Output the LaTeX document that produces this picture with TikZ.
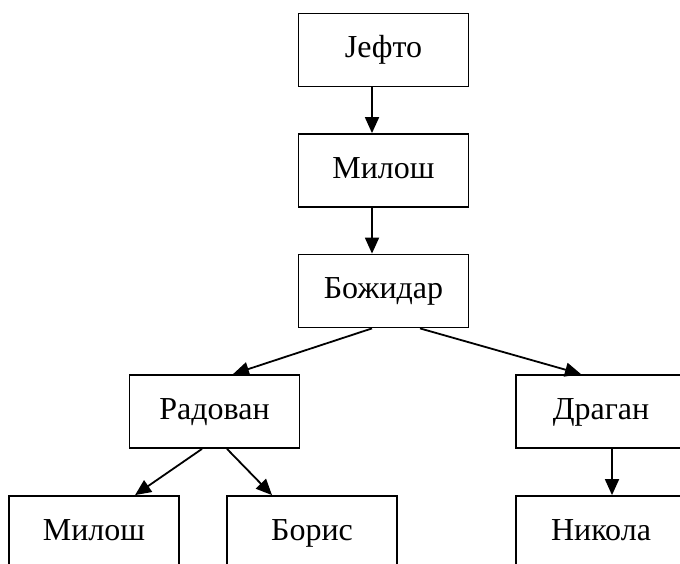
\documentclass[tikz,border=0pt]{standalone}
\usepackage{fontspec}
\setmainfont{Liberation Serif}
\usetikzlibrary{arrows.meta}

\begin{document}
\begin{tikzpicture}[x=0.5pt,y=-0.5pt,
        box/.style={draw,line width=0.9pt,minimum width=85pt,minimum height=36.5pt,
                    inner sep=0pt,text height=11pt,text depth=3.5pt,
                    font=\fontsize{16}{19}\selectfont},
        arr/.style={line width=0.9pt,-{Triangle[length=8pt,width=7pt]}}]
        \useasboundingbox (0,0) rectangle (680,563);
        %Family line
        \node[box] (jefto) at (383.5,50) {Јефто};
        \node[box] (milos) at (383.5,170.5) {Милош};
        \node[box] (bozidar) at (383.5,291) {Божидар};
        %Sons of Bozidar
        \node[box] (radovan) at (214.5,411.5) {Радован};
        \node[box] (dragan) at (601,411.5) {Драган};
        %Grandsons
        \node[box] (milos2) at (94,532.5) {Милош};
        \node[box] (boris) at (312,532.5) {Борис};
        \node[box] (nikola) at (601,532.5) {Никола};
        % Connect them
        \draw[arr] ([xshift=-5.75pt]jefto.south) -- ([xshift=-5.75pt]milos.north);
        \draw[arr] ([xshift=-5.75pt]milos.south) -- ([xshift=-5.75pt]bozidar.north);
        \draw[arr] ([xshift=-5.75pt]bozidar.south) -- ([xshift=9.25pt]radovan.north);
        \draw[arr] ([xshift=18.25pt]bozidar.south) -- ([xshift=-10pt]dragan.north);
        \draw[arr] ([xshift=-6.25pt]radovan.south) -- ([xshift=20.5pt]milos2.north);
        \draw[arr] ([xshift=6.25pt]radovan.south) -- ([xshift=-20pt]boris.north);
        \draw[arr] ([xshift=5.5pt]dragan.south) -- ([xshift=5.5pt]nikola.north);
\end{tikzpicture}
\end{document}
